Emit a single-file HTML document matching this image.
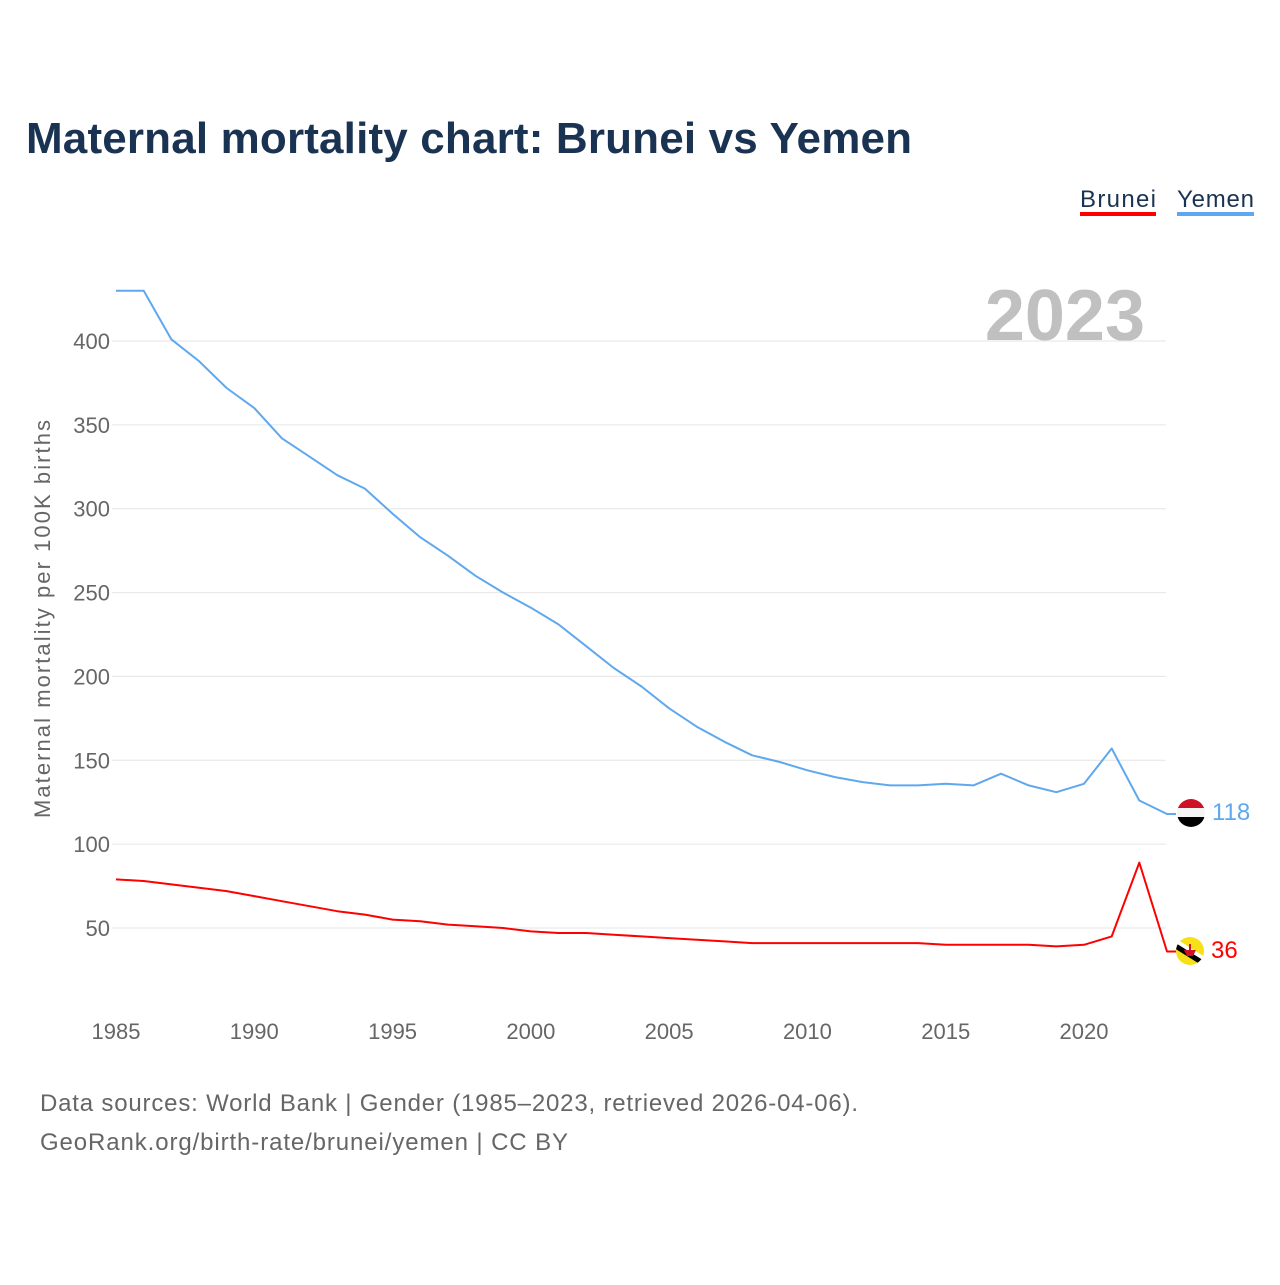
<!DOCTYPE html>
<html><head><meta charset="utf-8"><style>
body{margin:0;background:#fff;width:1280px;height:1280px;overflow:hidden;font-family:"Liberation Sans",sans-serif}
</style></head><body>
<svg width="1280" height="1280" id="chart" font-family="Liberation Sans, sans-serif">
<text x="26" y="153" font-size="44" font-weight="bold" fill="#1a3352" textLength="886">Maternal mortality chart: Brunei vs Yemen</text>
<g>
<text x="1080" y="207" font-size="24" fill="#1a3352" textLength="76">Brunei</text>
<rect x="1080" y="212" width="76" height="4" fill="#ff0000"/>
<text x="1177" y="207" font-size="24" fill="#1a3352" textLength="77">Yemen</text>
<rect x="1177" y="212" width="77" height="4" fill="#5fa8ee"/>
</g>
<text x="1145" y="340" font-size="72" font-weight="bold" fill="#c0c0c0" text-anchor="end">2023</text>
<g id="grid"></g>
<g id="yticks"></g>
<g id="xticks"></g>
<text transform="translate(50,619) rotate(-90)" font-size="22" fill="#666" text-anchor="middle" textLength="398">Maternal mortality per 100K births</text>
<g id="series"></g>
<g>
<clipPath id="cy"><circle cx="1191" cy="813" r="14"/></clipPath>
<g clip-path="url(#cy)"><rect x="1177" y="799" width="28" height="10" fill="#ce1126"/><rect x="1177" y="808" width="28" height="10" fill="#f4f4f4"/><rect x="1177" y="817" width="28" height="11" fill="#000"/></g>
</g>
<g>
<clipPath id="cb"><circle cx="1190" cy="951" r="14"/></clipPath>
<g clip-path="url(#cb)"><rect x="1176" y="937" width="28" height="28" fill="#f7e017"/><line x1="1174" y1="941" x2="1206" y2="961" stroke="#fff" stroke-width="6"/><line x1="1174" y1="945" x2="1206" y2="965" stroke="#000" stroke-width="5"/><path d="M1184 950 h12 l-3 6 h-6z M1189 944 h2 v8 h-2z" fill="#cf1126"/></g>
</g>
<text x="1212" y="820" font-size="24" fill="#5fa8ee">118</text>
<text x="1211" y="958" font-size="24" fill="#ff0000">36</text>
<text x="40" y="1111" font-size="24" fill="#666" textLength="818">Data sources: World Bank | Gender (1985–2023, retrieved 2026-04-06).</text>
<text x="40" y="1150" font-size="24" fill="#666" textLength="528">GeoRank.org/birth-rate/brunei/yemen | CC BY</text>
</svg>
<script>
const years=[1985,1986,1987,1988,1989,1990,1991,1992,1993,1994,1995,1996,1997,1998,1999,2000,2001,2002,2003,2004,2005,2006,2007,2008,2009,2010,2011,2012,2013,2014,2015,2016,2017,2018,2019,2020,2021,2022,2023];
const yemen=[430,430,401,388,372,360,342,331,320,312,297,283,272,260,250,241,231,218,205,194,181,170,161,153,149,144,140,137,135,135,136,135,142,135,131,136,157,126,118];
const brunei=[79,78,76,74,72,69,66,63,60,58,55,54,52,51,50,48,47,47,46,45,44,43,42,41,41,41,41,41,41,41,40,40,40,40,39,40,45,89,36];
const yTicks=[50,100,150,200,250,300,350,400];
const xTicks=[1985,1990,1995,2000,2005,2010,2015,2020];
const NS="http://www.w3.org/2000/svg";
const xs=y=>116+(y-1985)*(1084-116)/35;
const ys=v=>928-(v-50)*(928-341)/350;
function mk(t,a,p){const e=document.createElementNS(NS,t);for(const k in a)e.setAttribute(k,a[k]);p.appendChild(e);return e;}
const grid=document.getElementById('grid'),yt=document.getElementById('yticks'),xt=document.getElementById('xticks'),ser=document.getElementById('series');
yTicks.forEach(v=>{
 const l=mk('line',{x1:112,x2:1166,y1:ys(v),y2:ys(v),stroke:'#e6e6e6','stroke-width':1},grid);
 
 
 const t=mk('text',{x:110,y:ys(v)+8,'font-size':22,fill:'#666','text-anchor':'end'},yt);t.textContent=v;
 
 
});
xTicks.forEach(y=>{
 const t=mk('text',{x:xs(y),y:1039,'font-size':22,fill:'#666','text-anchor':'middle'},xt);t.textContent=y;
 
 
});
function line(vals,color,name,ly){
 let d=vals.map((v,i)=>(i?'L':'M')+xs(years[i]).toFixed(1)+' '+ys(v).toFixed(1)).join(' ');
 d+=' L'+(xs(years[years.length-1])+9)+' '+ly;
 const p=mk('path',{d:d,fill:'none',stroke:color,'stroke-width':2,'stroke-linejoin':'round'},ser);
 
 
}
line(yemen,'#5fa8ee','line-yemen',ys(yemen[yemen.length-1]));
line(brunei,'#ff0000','line-brunei',ys(brunei[brunei.length-1]));
</script>
</body></html>
